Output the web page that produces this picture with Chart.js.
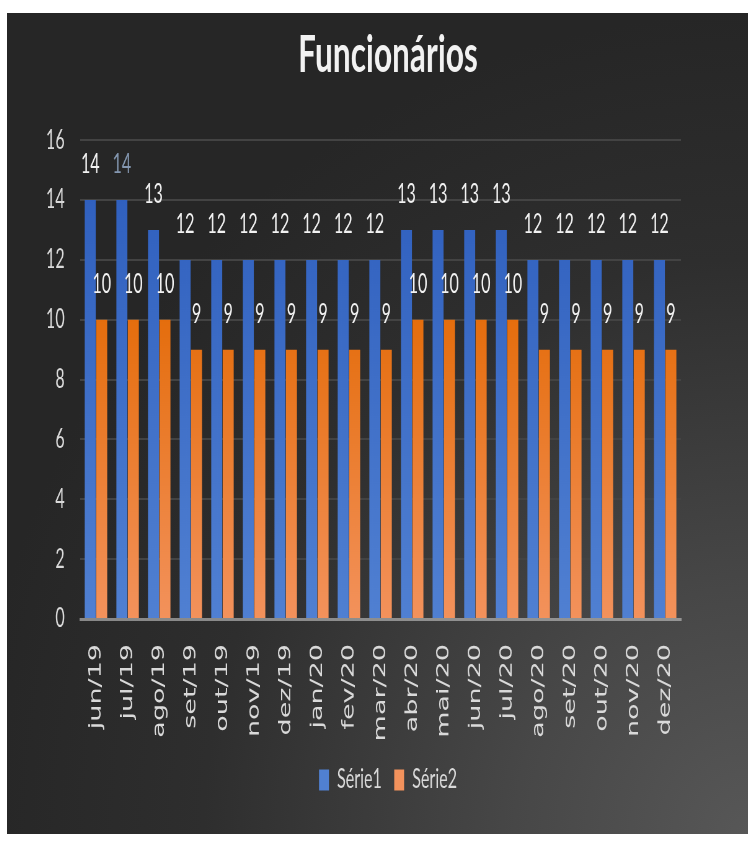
<!DOCTYPE html>
<html>
<head>
<meta charset="utf-8">
<script src="https://cdn.jsdelivr.net/npm/chart.js@4/dist/chart.umd.min.js"></script>
<style>
  body { margin: 0; background: #fff; width: 748px; height: 844px; overflow: hidden; }
  #frame {
    position: absolute; left: 7px; top: 13px; width: 741px; height: 821px; overflow: hidden;
    background: radial-gradient(ellipse 105% 100% at 100% 100%, #575757 0%, #474747 30%, #2e2e2e 70%, #262626 100%);
  }
  /* the picture is narrow, so the chart is drawn wide and pressed together */
  #chart { transform: scaleX(0.62); transform-origin: 0 0; }
</style>
</head>
<body>
<div id="frame"><canvas id="chart" width="1195" height="821"></canvas></div>
<script>
var months = ["jun/19", "jul/19", "ago/19", "set/19", "out/19", "nov/19", "dez/19",
  "jan/20", "fev/20", "mar/20", "abr/20", "mai/20", "jun/20", "jul/20",
  "ago/20", "set/20", "out/20", "nov/20", "dez/20"];
var serie1 = [14, 14, 13, 12, 12, 12, 12, 12, 12, 12, 13, 13, 13, 13, 12, 12, 12, 12, 12];
var serie2 = [10, 10, 10, 9, 9, 9, 9, 9, 9, 9, 10, 10, 10, 10, 9, 9, 9, 9, 9];
var yTicks = [0, 2, 4, 6, 8, 10, 12, 14, 16];

var blue = "#3264c4";
var orange = "#e46c0a";
var textGray = "#d9d9d9";

// Degrade vertical nas barras (mais claro em baixo)
function barFill(stops, solid) {
  return (c) => {
    let area = c.chart.chartArea;
    if (!area || c.type !== "data") return solid;
    let g = c.chart.ctx.createLinearGradient(0, area.top, 0, area.bottom);
    for (let s of stops) g.addColorStop(s[0], s[1]);
    return g;
  };
}

// Rotulos de valor em cima das barras
const valueLabels = {
  id: "valueLabels",
  afterDatasetsDraw(chart) {
    const ctx = chart.ctx;
    ctx.save();
    ctx.font = "26px Lato";
    ctx.textAlign = "center";
    ctx.textBaseline = "alphabetic";
    chart.data.datasets.forEach((ds, i) => {
      chart.getDatasetMeta(i).data.forEach((bar, j) => {
        // o segundo rotulo da Serie1 aparece azulado no original
        ctx.fillStyle = (i == 0 && j == 1) ? "#8497b0" : "#f2f2f2";
        ctx.fillText(ds.data[j], bar.x, bar.y - 27);
      });
    });
    ctx.restore();
  },
};

const ctx = document.getElementById("chart");
new Chart(ctx, {
  type: "bar",
  data: {
    labels: months,
    datasets: [
      {
        label: "Série1",
        data: serie1,
        backgroundColor: barFill([[0, "#2c5cbc"], [1, "#5080d2"]], blue),
        categoryPercentage: 0.725,
        barPercentage: 0.96,
      },
      {
        label: "Série2",
        data: serie2,
        backgroundColor: barFill([[0, "#e06406"], [0.35, "#e46c0a"], [1, "#f3925c"]], orange),
        categoryPercentage: 0.725,
        barPercentage: 0.96,
      },
    ],
  },
  options: {
    responsive: false,
    animation: false,
    layout: {
      padding: { left: 34, right: 0, top: 0, bottom: 31 },
    },
    scales: {
      x: {
        z: 1,
        grid: { display: false, drawTicks: false },
        border: { display: true, color: "rgba(200,200,200,0.6)", width: 3 },
        ticks: {
          color: textGray,
          font: { family: "DejaVu Sans", size: 27 },
          padding: 25,
          autoSkip: false,
          minRotation: 90,
          maxRotation: 90,
        },
        afterFit: (scale) => { scale.height = 128; },
      },
      y: {
        min: 0,
        max: 16,
        afterBuildTicks: (scale) => { scale.ticks = yTicks.map((v) => ({ value: v })); },
        grid: {
          drawTicks: false,
          lineWidth: 2,
          color: (c) => (c.tick && c.tick.value == 0) ? "rgba(0,0,0,0)" : "#434343",
        },
        border: { display: false },
        ticks: {
          color: textGray,
          font: { family: "Lato", size: 26 },
          padding: 25,
        },
        afterFit: (scale) => { scale.width = 84; },
      },
      // eixo vazio so para deixar a margem da direita
      right: {
        position: "right",
        grid: { display: false },
        border: { display: false },
        ticks: { display: false },
        afterFit: (scale) => { scale.width = 108; },
      },
    },
    plugins: {
      title: {
        display: true,
        text: "Funcionários",
        color: "#f2f2f2",
        font: { family: "Lato", size: 51, weight: "bold" },
        padding: { top: 12, bottom: 54 },
      },
      legend: {
        position: "bottom",
        labels: {
          color: textGray,
          font: { family: "Lato", size: 26 },
          boxWidth: 16,
          boxHeight: 21,
          padding: 20,
        },
      },
      tooltip: { enabled: false },
    },
  },
  plugins: [valueLabels],
});
</script>
</body>
</html>
